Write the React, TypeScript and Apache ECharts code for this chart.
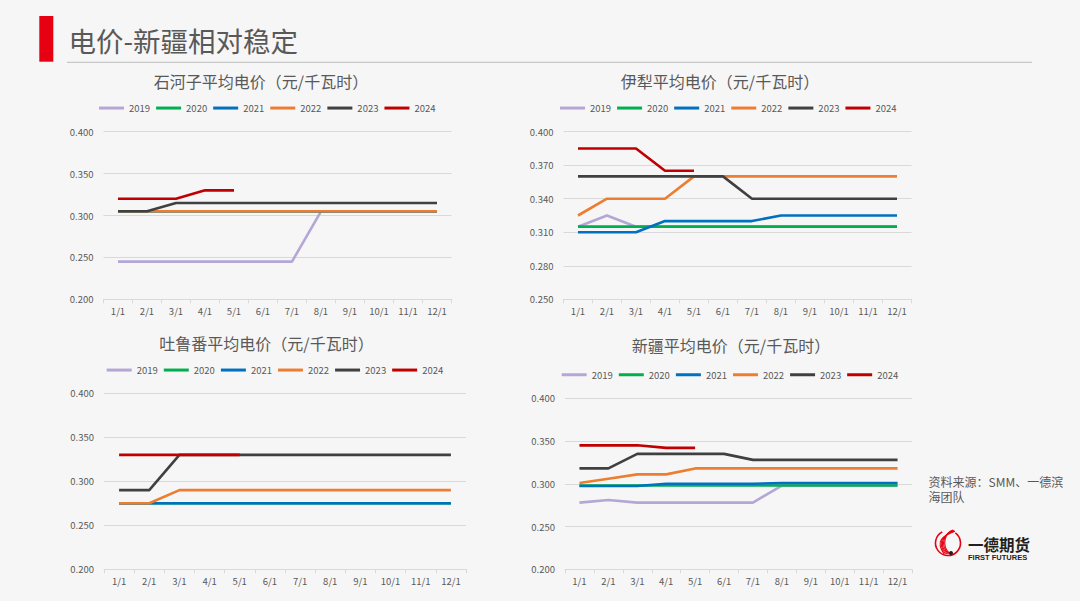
import React, { useEffect, useRef } from "react";
import * as echarts from "echarts";

const months = ["1/1", "2/1", "3/1", "4/1", "5/1", "6/1", "7/1", "8/1", "9/1", "10/1", "11/1", "12/1"];
const years = ["2019", "2020", "2021", "2022", "2023", "2024"];
const yearColors = ["#b4a7d6", "#00b050", "#0070c0", "#ed7d31", "#404040", "#c00000"];

// 石河子
const shihezi2019 = [0.245, 0.245, 0.245, 0.245, 0.245, 0.245, 0.245, 0.305, 0.305, 0.305, 0.305, 0.305];
const shihezi2020 = [0.305, 0.305, 0.305, 0.305, 0.305, 0.305, 0.305, 0.305, 0.305, 0.305, 0.305, 0.305];
const shihezi2021 = [0.305, 0.305, 0.305, 0.305, 0.305, 0.305, 0.305, 0.305, 0.305, 0.305, 0.305, 0.305];
const shihezi2022 = [0.305, 0.305, 0.305, 0.305, 0.305, 0.305, 0.305, 0.305, 0.305, 0.305, 0.305, 0.305];
const shihezi2023 = [0.305, 0.305, 0.315, 0.315, 0.315, 0.315, 0.315, 0.315, 0.315, 0.315, 0.315, 0.315];
const shihezi2024 = [0.32, 0.32, 0.32, 0.33, 0.33];

// 伊犁
const yili2019 = [0.315, 0.325, 0.315, 0.315, 0.315, 0.315, 0.315, 0.315, 0.315, 0.315, 0.315, 0.315];
const yili2020 = [0.315, 0.315, 0.315, 0.315, 0.315, 0.315, 0.315, 0.315, 0.315, 0.315, 0.315, 0.315];
const yili2021 = [0.31, 0.31, 0.31, 0.32, 0.32, 0.32, 0.32, 0.325, 0.325, 0.325, 0.325, 0.325];
const yili2022 = [0.325, 0.34, 0.34, 0.34, 0.36, 0.36, 0.36, 0.36, 0.36, 0.36, 0.36, 0.36];
const yili2023 = [0.36, 0.36, 0.36, 0.36, 0.36, 0.36, 0.34, 0.34, 0.34, 0.34, 0.34, 0.34];
const yili2024 = [0.385, 0.385, 0.385, 0.365, 0.365];

// 吐鲁番
const tulufan2019 = [0.275, 0.275, 0.275, 0.275, 0.275, 0.275, 0.275, 0.275, 0.275, 0.275, 0.275, 0.275];
const tulufan2020 = [0.275, 0.275, 0.275, 0.275, 0.275, 0.275, 0.275, 0.275, 0.275, 0.275, 0.275, 0.275];
const tulufan2021 = [0.275, 0.275, 0.275, 0.275, 0.275, 0.275, 0.275, 0.275, 0.275, 0.275, 0.275, 0.275];
const tulufan2022 = [0.275, 0.275, 0.29, 0.29, 0.29, 0.29, 0.29, 0.29, 0.29, 0.29, 0.29, 0.29];
const tulufan2023 = [0.29, 0.29, 0.33, 0.33, 0.33, 0.33, 0.33, 0.33, 0.33, 0.33, 0.33, 0.33];
const tulufan2024 = [0.33, 0.33, 0.33, 0.33, 0.33];

// 新疆
const xinjiang2019 = [0.278, 0.281, 0.278, 0.278, 0.278, 0.278, 0.278, 0.298, 0.298, 0.298, 0.298, 0.298];
const xinjiang2020 = [0.298, 0.298, 0.298, 0.298, 0.298, 0.298, 0.298, 0.298, 0.298, 0.298, 0.298, 0.298];
const xinjiang2021 = [0.2975, 0.2975, 0.2975, 0.3, 0.3, 0.3, 0.3, 0.301, 0.301, 0.301, 0.301, 0.301];
const xinjiang2022 = [0.301, 0.306, 0.311, 0.311, 0.318, 0.318, 0.318, 0.318, 0.318, 0.318, 0.318, 0.318];
const xinjiang2023 = [0.318, 0.318, 0.335, 0.335, 0.335, 0.335, 0.328, 0.328, 0.328, 0.328, 0.328, 0.328];
const xinjiang2024 = [0.345, 0.345, 0.345, 0.342, 0.342];

const panelTitles = [
  "石河子平均电价（元/千瓦时）",
  "伊犁平均电价（元/千瓦时）",
  "吐鲁番平均电价（元/千瓦时）",
  "新疆平均电价（元/千瓦时）",
];
const panelData = [
  [shihezi2019, shihezi2020, shihezi2021, shihezi2022, shihezi2023, shihezi2024],
  [yili2019, yili2020, yili2021, yili2022, yili2023, yili2024],
  [tulufan2019, tulufan2020, tulufan2021, tulufan2022, tulufan2023, tulufan2024],
  [xinjiang2019, xinjiang2020, xinjiang2021, xinjiang2022, xinjiang2023, xinjiang2024],
];
const yRanges = [
  [0.2, 0.4, 0.05],
  [0.25, 0.4, 0.03],
  [0.2, 0.4, 0.05],
  [0.2, 0.4, 0.05],
];

const mainTitle = "电价-新疆相对稳定";
const sourceLines = ["资料来源：SMM、一德滨", "海团队"];

// layout
const layout = [
  { grid: { left: 103.5, top: 131.7, width: 348, height: 167.6 }, title: [261, 80.5], legend: [99, 109.3] },
  { grid: { left: 563.5, top: 131.7, width: 348, height: 167.6 }, title: [720, 80.5], legend: [560, 109.3] },
  { grid: { left: 104, top: 393.3, width: 362, height: 176 }, title: [266.5, 343], legend: [106.7, 371.3] },
  { grid: { left: 565, top: 398.3, width: 347, height: 171 }, title: [731, 345], legend: [561.7, 376] },
];

const FONT = "'Noto Sans CJK SC', 'Noto Sans', sans-serif";
const TEXT = "#595959";
const GRIDLINE = "#d9d9d9";

export default function App() {
  const ref = useRef<HTMLDivElement>(null);
  useEffect(() => {
    if (!ref.current) return;
    const chart = echarts.init(ref.current, undefined, { renderer: "svg" });

    const grids = layout.map((l) => ({ ...l.grid, containLabel: false }));
    const xAxes = layout.map((_, i) => ({
      type: "category",
      gridIndex: i,
      data: months,
      boundaryGap: true,
      axisLine: { show: true, lineStyle: { color: GRIDLINE, width: 1 } },
      axisTick: { show: true, length: 4, lineStyle: { color: GRIDLINE } },
      axisLabel: { interval: 0, fontSize: 9.5, color: TEXT, margin: 7, fontFamily: FONT },
    }));
    const yAxes = layout.map((_, i) => ({
      type: "value",
      gridIndex: i,
      min: yRanges[i][0],
      max: yRanges[i][1],
      interval: yRanges[i][2],
      axisLine: { show: false },
      axisTick: { show: false },
      splitLine: { show: true, lineStyle: { color: GRIDLINE, width: 1 } },
      axisLabel: {
        fontSize: 9.5,
        color: TEXT,
        margin: 10,
        fontFamily: FONT,
        formatter: (v: number) => v.toFixed(3),
      },
    }));
    const legends = layout.map((l) => ({
      left: l.legend[0],
      top: l.legend[1] - 6,
      padding: 0,
      orient: "horizontal",
      icon: "rect",
      itemWidth: 25,
      itemHeight: 3,
      itemGap: 6,
      textStyle: { fontSize: 9.5, color: TEXT, fontFamily: FONT },
      data: years,
    }));
    const series: any[] = [];
    panelData.forEach((sets, p) => {
      sets.forEach((vals, k) => {
        series.push({
          type: "line",
          name: years[k],
          xAxisIndex: p,
          yAxisIndex: p,
          data: vals,
          showSymbol: false,
          symbol: "none",
          color: yearColors[k],
          lineStyle: { width: 2.6, color: yearColors[k] },
          z: 2 + k,
        });
      });
    });

    const graphics: any[] = [
      { type: "rect", shape: { x: 39.3, y: 16, width: 14, height: 45.7 }, style: { fill: "#e60012" } },
      {
        type: "text",
        x: 68.5,
        y: 39.5,
        style: { text: mainTitle, fontSize: 27.5, fill: TEXT, fontFamily: FONT, textVerticalAlign: "middle", textAlign: "left" },
      },
      { type: "line", shape: { x1: 67, y1: 62.3, x2: 1032, y2: 62.3 }, style: { stroke: "#bfbfbf", lineWidth: 1 } },
      ...layout.map((l, i) => ({
        type: "text",
        x: l.title[0],
        y: l.title[1],
        style: {
          text: panelTitles[i],
          fontSize: 16,
          fill: TEXT,
          fontFamily: FONT,
          textAlign: "center",
          textVerticalAlign: "middle",
        },
      })),
      ...sourceLines.map((t, i) => ({
        type: "text",
        x: 928.5,
        y: 481 + i * 15,
        style: { text: t, fontSize: 12, fill: TEXT, fontFamily: FONT, textAlign: "left", textVerticalAlign: "middle" },
      })),
      // logo
      {
        type: "arc",
        shape: { cx: 948, cy: 543, r: 12.5, startAngle: -Math.PI * 0.3, endAngle: Math.PI * 1.35 },
        style: { stroke: "#e60012", lineWidth: 1.6, fill: "none" },
      },
      ...[0, 1, 2, 3, 4].map((j) => ({
        type: "bezierCurve",
        shape: {
          x1: 950 - j * 1.5,
          y1: 554,
          cpx1: 940 - j * 1.2,
          cpy1: 545 - j,
          x2: 953 + j * 0.5,
          y2: 530 + j * 0.3,
          cpx2: 946 - j,
          cpy2: 532 + j,
        },
        style: { stroke: "#e60012", lineWidth: 1.1, fill: "none" },
      })),
      { type: "circle", shape: { cx: 951, cy: 553, r: 2 }, style: { fill: "#231f20" } },
      {
        type: "text",
        x: 968,
        y: 543.5,
        style: { text: "一德期货", fontSize: 15.5, fontWeight: "bold", fill: "#231f20", fontFamily: FONT, textVerticalAlign: "middle" },
      },
      {
        type: "text",
        x: 968,
        y: 557,
        style: {
          text: "FIRST FUTURES",
          fontSize: 7.5,
          fontWeight: "bold",
          fill: "#231f20",
          fontFamily: "'Liberation Sans', Arial, sans-serif",
          textVerticalAlign: "middle",
        },
      },
    ];

    chart.setOption({
      animation: false,
      backgroundColor: "#f6f6f6",
      textStyle: { fontFamily: FONT },
      grid: grids,
      xAxis: xAxes,
      yAxis: yAxes,
      legend: legends,
      series,
      graphic: graphics,
    });
    return () => chart.dispose();
  }, []);
  return (
    <div
      ref={ref}
      style={{ position: "fixed", left: 0, top: 0, width: 1080, height: 601, background: "#f6f6f6" }}
    />
  );
}
